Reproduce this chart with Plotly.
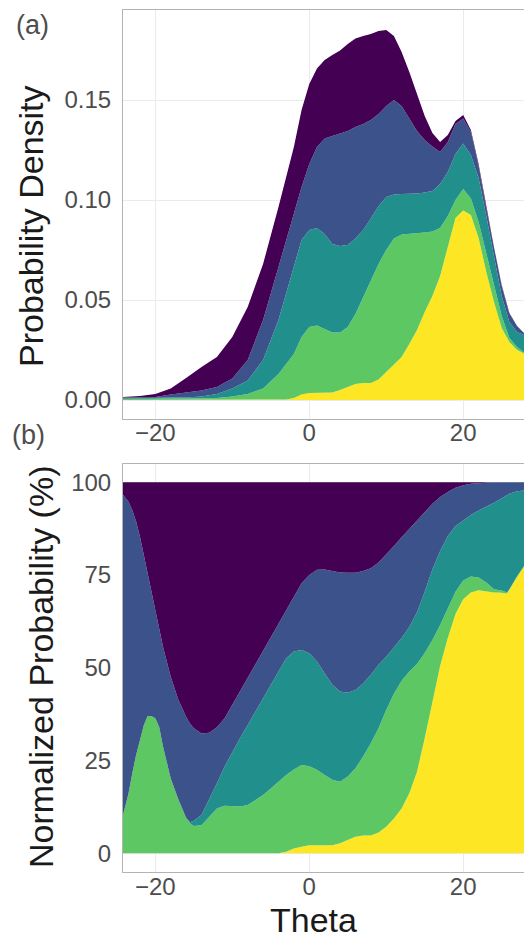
import plotly.graph_objects as go

# ---------------- Panel (a): stacked probability density ----------------
# upper edge of each stacked layer (cumulative)
a_theta = [-24.2, -22, -20, -18, -16, -14, -12, -10, -8, -6, -4, -3, -2, -1, 0, 1, 2, 3, 4, 5,
           6, 7, 8, 9, 10, 11, 12, 13, 14, 15, 16, 17, 18, 19, 20, 21, 22, 23, 24, 25, 26, 27, 27.9]
a_yellow = [0, 0, 0, 0, 0, 0, 0, 0, 0, 0, 0, .0003, .001, .0027, .0035, .0036, .0037, .0037, .005, .0065,
            .008, .0085, .0085, .0103, .014, .0173, .0215, .028, .035, .044, .052, .062, .076, .091, .0947, .0925,
            .081, .064, .049, .036, .029, .025, .0233]
a_green = [.0005, .0007, .0008, .0008, .0007, .0007, .001, .0018, .003, .0057, .013, .018, .023, .0315, .0365,
           .0373, .0357, .0337, .0337, .0365, .043, .0515, .060, .068, .075, .0807, .0827, .083, .0832, .0838,
           .0842, .086, .092, .100, .1055, .1008, .089, .073, .057, .042, .031, .0265, .0238]
a_teal = [.0007, .001, .0011, .0012, .0012, .0018, .003, .0057, .0098, .020, .040, .053, .0665, .080, .085,
          .086, .083, .078, .077, .0775, .0807, .085, .0907, .097, .1015, .1027, .103, .103, .1032, .1038,
          .1045, .108, .114, .123, .1283, .1225, .111, .092, .071, .052, .039, .034, .0325]
a_blue = [.0012, .0013, .0015, .0027, .0037, .0048, .0065, .0107, .020, .040, .0665, .080, .093, .1065, .118,
          .1265, .1307, .132, .133, .1345, .1365, .138, .140, .143, .147, .150, .147, .141, .1345, .130,
          .1267, .124, .129, .138, .1408, .134, .117, .096, .076, .057, .043, .037, .0335]
a_purple = [.0015, .002, .003, .0057, .011, .0165, .0215, .0315, .0465, .068, .0965, .112, .1265, .145, .158,
            .1657, .170, .1725, .1748, .178, .1807, .182, .183, .1845, .185, .182, .174, .164, .153, .142,
            .1335, .129, .1325, .1395, .1425, .135, .118, .0965, .0765, .0575, .0435, .037, .0335]

# ---------------- Panel (b): normalized probability (%) ----------------
b_theta = [-24.2, -23.5, -23, -22.5, -22, -21.5, -21, -20.5, -20, -19.5, -19, -18, -17, -16, -15.5, -15,
           -14, -13, -12, -11, -10, -9, -8, -7, -6, -5, -4, -3, -2, -1, 0, 1, 2, 3, 4, 5, 6, 7, 8, 9,
           10, 11, 12, 13, 14, 15, 16, 17, 18, 19, 20, 21, 22, 23, 24, 25, 25.7, 26, 27, 27.9]
b_yellow = [0] * 27 + [0.4, 1.3, 1.8, 2.2, 2.2, 2.2, 2.2, 2.7, 3.6, 4.5, 4.8, 4.8, 5.6,
                       7.2, 9.4, 12.1, 16.2, 22, 31, 41, 50.5, 58, 64.5, 68.5, 70.3, 70.9, 70.6, 70.3,
                       70.2, 70.0, 71, 74.5, 77.2]
b_green = [10.3, 16, 21.5, 26.5, 30.5, 34.5, 37.0, 37.0, 36.4, 34.1, 28.8, 20.2, 14.5, 9.6, 8.1, 7.4,
           7.6, 9.9, 12.1, 12.8, 12.8, 12.6, 13.0, 14.4, 15.7, 17.5, 19.3, 21.1, 22.6, 23.8, 23.5, 22.5,
           21.1, 19.8, 19.3, 20.7, 22.9, 26.1, 29.7, 33.7, 38.6, 43, 46.5, 49, 51, 54, 57.5, 61.5, 66,
           70.5, 73.5, 74.6, 74.3, 73, 71.2, 70.8, 70.3, 71.2, 74.7, 77.4]
b_teal = [10.3, 16, 21.5, 26.5, 30.5, 34.5, 37.0, 37.0, 36.4, 34.1, 28.8, 20.2, 14.5, 9.6, 8.4, 8.8,
          10.3, 14.4, 18.9, 23.4, 27.4, 31.0, 34.6, 38.2, 41.8, 45.8, 49.4, 52.6, 54.4, 54.8, 53.9, 51.7,
          48.5, 45.4, 43.6, 43.3, 44.0, 45.8, 48.1, 50.8, 53, 55.5, 58, 61, 65, 70.5, 76.5, 81.5, 85.5,
          88.2, 89.8, 91.2, 92.4, 93.4, 94.5, 95.7, 96.5, 96.9, 97.6, 97.8]
b_blue = [96.6, 94.8, 92.5, 89.5, 85.4, 80.5, 75.5, 70.5, 65.6, 60.5, 55.7, 47.6, 41.3, 36.8, 35.0, 33.7,
          32.3, 32.5, 34.0, 36.4, 40.0, 44.0, 47.6, 51.2, 54.8, 58.4, 62.0, 65.6, 69.2, 72.8, 75.0, 76.4,
          76.5, 76.1, 75.7, 75.6, 75.6, 76.1, 76.8, 78.4, 80.5, 82.8, 85.2, 87.4, 89.6, 92.0, 94.2, 96.0,
          97.4, 98.5, 99.2, 99.6, 99.8, 99.9, 100, 100, 100, 100, 100, 100]
b_purple = [100] * len(b_theta)

colors = ["#FDE725", "#5DC863", "#21908C", "#3B528B", "#440154"]

x_ticks = [-20, 0, 20]
x_ticktext = ["\u221220", "0", "20"]

a_layers = [a_yellow, a_green, a_teal, a_blue, a_purple]
b_layers = [b_yellow, b_green, b_teal, b_blue, b_purple]

fig = go.Figure()
for i, (vals, col) in enumerate(zip(a_layers, colors)):
    fig.add_trace(go.Scatter(x=a_theta, y=vals, mode="lines", line=dict(width=0, color=col),
                             fill="tozeroy" if i == 0 else "tonexty", fillcolor=col,
                             xaxis="x", yaxis="y", showlegend=False, hoverinfo="skip"))
for i, (vals, col) in enumerate(zip(b_layers, colors)):
    fig.add_trace(go.Scatter(x=b_theta, y=vals, mode="lines", line=dict(width=0, color=col),
                             fill="tozeroy" if i == 0 else "tonexty", fillcolor=col,
                             xaxis="x2", yaxis="y2", showlegend=False, hoverinfo="skip"))

H = 939.0
W = 524.0
L = 123.0
PW = W - L
FONT = "Liberation Sans, Arial, sans-serif"
tickfont = dict(family=FONT, size=24, color="#4d4d4d")
grid = "#ebebeb"
border = "#b3b3b3"
XR = [-24.2, 27.9]

def px_x(p):
    return (p - L) / PW

def px_y(p):
    return 1 - p / H

xcommon = dict(range=XR, tickvals=x_ticks, ticktext=x_ticktext,
               showgrid=True, gridcolor=grid, gridwidth=1, zeroline=False, showline=True,
               linecolor=border, linewidth=1, mirror=True, ticks="", tickfont=tickfont,
               ticklabelstandoff=-7)
ycommon = dict(showgrid=True, gridcolor=grid, gridwidth=1, zeroline=False, showline=True,
               linecolor=border, linewidth=1, mirror=False, ticks="", tickfont=tickfont,
               ticklabelstandoff=6)

fig.update_layout(
    width=524, height=939,
    margin=dict(l=L, r=0, t=0, b=0),
    paper_bgcolor="white", plot_bgcolor="white",
    font=dict(family=FONT),
    xaxis=dict(domain=[0, 1], anchor="y", **xcommon),
    yaxis=dict(domain=[1 - 418.6 / H, 1 - 10 / H], anchor="x", range=[-0.0093, 0.195],
               tickvals=[0, 0.05, 0.10, 0.15], ticktext=["0.00", "0.05", "0.10", "0.15"], **ycommon),
    xaxis2=dict(domain=[0, 1], anchor="y2", **xcommon),
    yaxis2=dict(domain=[1 - 871.9 / H, 1 - 463.7 / H], anchor="x2", range=[-5, 105],
                tickvals=[0, 25, 50, 75, 100], ticktext=["0", "25", "50", "75", "100"], **ycommon),
)

ann = [
    dict(text="(a)", x=px_x(32), y=px_y(25), font=dict(size=27, color="#4d4d4d")),
    dict(text="(b)", x=px_x(28), y=px_y(435), font=dict(size=27, color="#4d4d4d")),
    dict(text="Probability Density", x=px_x(31), y=px_y(226), textangle=-90,
         font=dict(size=34, color="#1a1a1a")),
    dict(text="Normalized Probability (%)", x=px_x(41), y=px_y(667), textangle=-90,
         font=dict(size=34, color="#1a1a1a")),
    dict(text="Theta", x=px_x(313), y=px_y(920), font=dict(size=34, color="#1a1a1a")),
]
for a in ann:
    a.update(xref="paper", yref="paper", showarrow=False, xanchor="center", yanchor="middle")
    a["font"]["family"] = FONT
fig.update_layout(annotations=ann)

fig.write_html("out.html")
